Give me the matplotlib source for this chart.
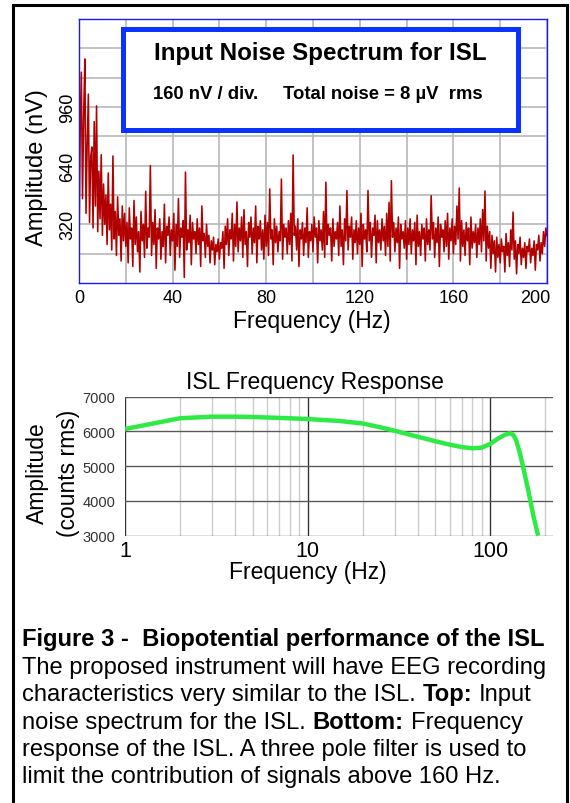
import numpy as np
import matplotlib
matplotlib.use('Agg')
import matplotlib.pyplot as plt
import matplotlib.ticker as mticker
from matplotlib.transforms import ScaledTranslation

plt.rcParams['font.family'] = ['Liberation Sans', 'DejaVu Sans']

#%% DATA ###
### Top: input noise spectrum, 0.5 Hz bins from 0 to 200 Hz [nV]
freq_step = 0.5
noise_nv = [
    185, 820, 1150, 460, 920, 1222, 380, 760, 1030, 330, 690, 742, 300, 880, 420, 966, 280, 610, 350, 700,
    260, 540, 320, 480, 210, 600, 290, 430, 180, 693, 240, 390, 150, 470, 260, 350, 120, 420, 230, 380,
    200, 330, 110, 410, 240, 300, 90, 450, 210, 360, 170, 280, 60, 390, 230, 320, 140, 500, 190, 300,
    250, 640, 150, 330, 210, 400, 80, 300, 240, 350, 130, 280, 200, 430, 110, 310, 260, 360, 150, 290,
    230, 380, 70, 320, 200, 460, 140, 300, 250, 340, 30, 605, 180, 290, 220, 370, 100, 330, 240, 280,
    160, 350, 210, 300, 90, 420, 230, 270, 140, 320, 200, 260, 110, 230, 180, 250, 100, 210, 170, 240,
    130, 220, 190, 280, 80, 310, 210, 350, 150, 290, 240, 380, 120, 320, 200, 442, 170, 300, 230, 360,
    140, 400, 210, 280, 90, 330, 250, 360, 160, 300, 220, 420, 110, 310, 240, 340, 180, 290, 130, 370,
    200, 330, 150, 513, 240, 290, 100, 350, 220, 310, 170, 280, 230, 567, 130, 320, 250, 300, 160, 340,
    210, 380, 120, 698, 260, 310, 180, 350, 90, 290, 240, 330, 150, 300, 220, 410, 140, 280, 230, 320,
    170, 360, 250, 300, 110, 340, 230, 290, 180, 390, 140, 550, 210, 320, 260, 300, 120, 350, 200, 280,
    240, 330, 150, 420, 200, 290, 100, 350, 230, 504, 180, 310, 250, 360, 130, 290, 220, 340, 160, 300,
    210, 380, 90, 320, 240, 290, 170, 504, 230, 330, 140, 300, 260, 370, 110, 340, 220, 290, 180, 350,
    230, 310, 150, 380, 200, 440, 120, 558, 250, 330, 170, 300, 220, 360, 80, 320, 240, 280, 190, 340,
    130, 300, 210, 350, 160, 290, 230, 330, 100, 370, 200, 280, 150, 320, 240, 300, 120, 350, 210, 290,
    180, 476, 240, 330, 140, 300, 220, 360, 90, 320, 250, 290, 170, 340, 200, 380, 130, 300, 230, 350,
    160, 310, 210, 420, 240, 518, 120, 340, 200, 290, 150, 330, 230, 300, 100, 360, 190, 280, 220, 320,
    140, 300, 210, 350, 170, 400, 230, 502, 120, 310, 190, 280, 80, 260, 160, 230, 60, 250, 140, 210,
    110, 240, 170, 200, 60, 270, 150, 220, 90, 290, 180, 387, 130, 230, 50, 210, 160, 250, 100, 190,
    140, 220, 80, 200, 170, 240, 110, 190, 150, 230, 70, 210, 180, 260, 120, 220, 160, 280, 200, 300,
    258,
]
top_xticks = [0, 40, 80, 120, 160, 200]
top_yticks = [320, 640, 960]

### Bottom: ISL frequency response
resp_freq = [1, 2, 3, 4, 5, 7, 10, 15, 20, 25, 30, 40, 50, 60, 70, 80, 90, 100,
             110, 120, 128, 134, 139, 145, 151, 161, 172, 183]
resp_amp = [6070, 6380, 6425, 6425, 6415, 6390, 6358, 6300, 6230, 6120, 6020, 5850,
            5720, 5620, 5550, 5515, 5535, 5640, 5790, 5900, 5947, 5900, 5734, 5400,
            5014, 4344, 3600, 3000]
bot_xticks = [1, 10, 100]
bot_yticks = [3000, 4000, 5000, 6000, 7000]

### Caption (text, weight) pieces per line
caption = [
    [('Figure 3 -  Biopotential performance of the ISL', 'bold')],
    [('The proposed instrument will have EEG recording', 'normal')],
    [('characteristics very similar to the ISL.', 'normal'), ('Top:', 'bold'), ('Input', 'normal')],
    [('noise spectrum for the ISL.', 'normal'), ('Bottom:', 'bold'), ('Frequency', 'normal')],
    [('response of the ISL. A three pole filter is used to', 'normal')],
    [('limit the contribution of signals above 160 Hz.', 'normal')],
]

#%% FIGURE ###
W, H = 570, 804
fig = plt.figure(figsize=(W/100, H/100), dpi=100)

def fx(x):
    return x / W

def fy(y):
    return 1 - y / H

### outer border
fig.add_artist(plt.Rectangle((fx(13.3), fy(900)), fx(566.7) - fx(13.3), (900 - 5.7) / H,
                             transform=fig.transFigure, fill=False, ec='black', lw=2.2))

#%% Top panel
ax1 = fig.add_axes([fx(79), fy(284), 468 / W, 264 / H])
freqs = np.arange(len(noise_nv)) * freq_step
ax1.plot(freqs, noise_nv, color='#b00000', lw=1.15)
ax1.set_xlim(0, 200)
ax1.set_ylim(0, 1440)
ax1.set_xticks(top_xticks)
ax1.set_xticks([20, 60, 100, 140, 180], minor=True)
ax1.set_yticks(top_yticks)
ax1.set_yticks([160, 480, 800, 1120, 1280], minor=True)
ax1.grid(which='both', color='#b8b8b8', lw=1.2)
ax1.tick_params(which='both', length=0)
ax1.tick_params(axis='x', labelsize=13, pad=4)
ax1.tick_params(axis='y', labelsize=13, pad=2)
for lab in ax1.get_yticklabels():
    lab.set_rotation(90)
    lab.set_va('center')
for s in ax1.spines.values():
    s.set_color('#1a1aff')
    s.set_lw(1)
### the 200 label sits left of its gridline
last = ax1.get_xticklabels()[-1]
last.set_transform(last.get_transform() + ScaledTranslation(-0.12, 0, fig.dpi_scale_trans))

fig.text(fx(36.7), fy(167.5), 'Amplitude (nV)', rotation=90, ha='center', va='center', fontsize=17)
fig.text(fx(312), fy(322), 'Frequency (Hz)', ha='center', va='center', fontsize=16.5)

### title box
fig.add_artist(plt.Rectangle((fx(123), fy(131)), (518 - 123) / W, (131 - 30) / H,
                             transform=fig.transFigure, fc='white', ec='#0a33ff', lw=3.6))
fig.text(fx(320), fy(60), 'Input Noise Spectrum for ISL', ha='center', va='baseline',
         fontsize=17.4, fontweight='bold')
fig.text(fx(152.7), fy(99.3), '160 nV / div.', ha='left', va='baseline', fontsize=13.3, fontweight='bold')
fig.text(fx(283), fy(99.3), 'Total noise = 8 µV  rms', ha='left', va='baseline',
         fontsize=13.3, fontweight='bold')

#%% Bottom panel
ax2 = fig.add_axes([fx(125), fy(536.7), 427.7 / W, 139 / H])
ax2.semilogx(resp_freq, resp_amp, color='#2eea44', lw=3.2, solid_capstyle='butt')
ax2.set_xlim(1, 220)
ax2.set_ylim(3000, 7000)
ax2.set_xticks(bot_xticks)
ax2.set_xticklabels([str(v) for v in bot_xticks])
ax2.xaxis.set_minor_locator(mticker.FixedLocator(
    [m * d for d in [1, 10, 100] for m in range(2, 10) if m * d <= 220]))
ax2.xaxis.set_minor_formatter(mticker.NullFormatter())
ax2.set_yticks(bot_yticks)
ax2.grid(which='major', axis='x', color='#333333', lw=1)
ax2.grid(which='minor', axis='x', color='#cccccc', lw=1)
ax2.grid(which='major', axis='y', color='#5a5a5a', lw=1)
ax2.tick_params(which='both', length=0)
ax2.tick_params(axis='x', labelsize=15.5, pad=3)
ax2.tick_params(axis='y', labelsize=10.5, pad=7, labelcolor='#333333')
for s in ax2.spines.values():
    s.set_visible(False)

fig.text(fx(315), fy(383), 'ISL Frequency Response', ha='center', va='center', fontsize=16.5)
fig.text(fx(307.5), fy(573), 'Frequency (Hz)', ha='center', va='center', fontsize=16.5)
fig.text(fx(53), fy(473), 'Amplitude\n(counts rms)', rotation=90, ha='center', va='center',
         fontsize=16.5, linespacing=1.4, multialignment='center')

#%% Caption
renderer = fig.canvas.get_renderer()

def text_w(s, size, weight):
    t = fig.text(0, 0, s, fontsize=size, fontweight=weight)
    w = t.get_window_extent(renderer).width
    t.remove()
    return w

cap_x = 22.5
cap_size = 17.1
baselines = [646.5, 674, 701.5, 729, 756.5, 783]
for y, parts in zip(baselines, caption):
    x = cap_x
    for i, (s, weight) in enumerate(parts):
        if i > 0:
            x += text_w('a a', cap_size, weight) - text_w('aa', cap_size, weight)
        t = fig.text(fx(x), fy(y), s, fontsize=cap_size, fontweight=weight, ha='left', va='baseline')
        x = t.get_window_extent(renderer).x1

fig.savefig('out.png', dpi=100)
